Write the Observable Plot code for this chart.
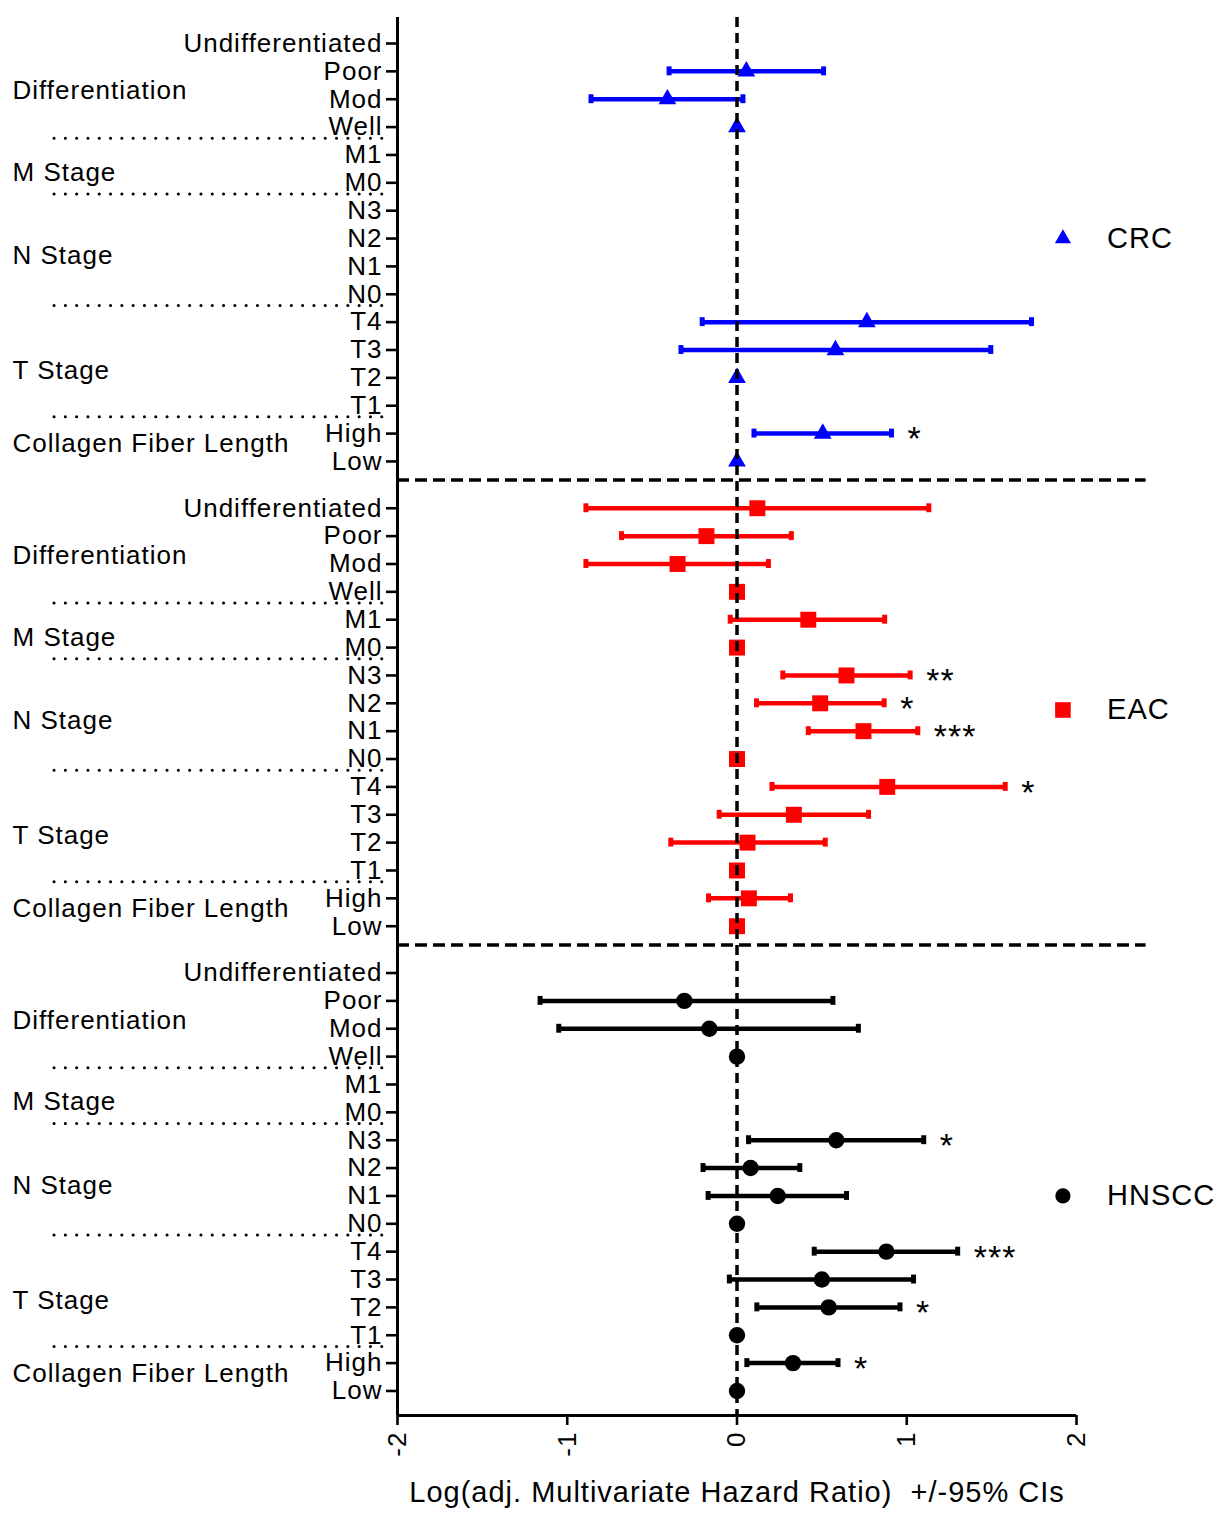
<!DOCTYPE html>
<html>
<head>
<meta charset="utf-8">
<script src="https://cdn.jsdelivr.net/npm/d3@7"></script>
<script src="https://cdn.jsdelivr.net/npm/@observablehq/plot@0.6"></script>
<style>
  body { margin: 0; background: #fff; }
  #chart svg text { letter-spacing: 1px; }
</style>
</head>
<body>
<div id="chart"></div>
<script>
// ---------- data ----------
const rowLabels = ["Undifferentiated", "Poor", "Mod", "Well", "M1", "M0", "N3", "N2", "N1", "N0", "T4", "T3", "T2", "T1", "High", "Low"];
const cohorts = ["CRC", "EAC", "HNSCC"];
const cohortColors = ["#0000ff", "#ff0000", "#000000"];
const cohortSymbols = ["triangle", "square", "circle"];

const crcEst = [null, 0.055, -0.41, 0, null, null, null, null, null, null, 0.765, 0.58, 0, null, 0.505, 0];
const crcLo  = [null, -0.40, -0.86, null, null, null, null, null, null, null, -0.205, -0.33, null, null, 0.10, null];
const crcHi  = [null, 0.51, 0.035, null, null, null, null, null, null, null, 1.735, 1.495, null, null, 0.91, null];
const crcSig = ["", "", "", "", "", "", "", "", "", "", "", "", "", "", "*", ""];

const eacEst = [0.12, -0.18, -0.35, 0, 0.42, 0, 0.645, 0.49, 0.745, 0, 0.885, 0.335, 0.062, 0, 0.07, 0];
const eacLo  = [-0.89, -0.68, -0.89, null, -0.04, null, 0.27, 0.115, 0.42, null, 0.206, -0.105, -0.39, null, -0.168, null];
const eacHi  = [1.13, 0.32, 0.185, null, 0.87, null, 1.02, 0.867, 1.065, null, 1.58, 0.775, 0.52, null, 0.315, null];
const eacSig = ["", "", "", "", "", "", "**", "*", "***", "", "*", "", "", "", "", ""];

const hnEst = [null, -0.31, -0.163, 0, null, null, 0.585, 0.08, 0.24, 0, 0.88, 0.50, 0.54, 0, 0.33, 0];
const hnLo  = [null, -1.16, -1.05, null, null, null, 0.068, -0.20, -0.17, null, 0.455, -0.045, 0.117, null, 0.058, null];
const hnHi  = [null, 0.565, 0.715, null, null, null, 1.10, 0.37, 0.645, null, 1.30, 1.04, 0.96, null, 0.595, null];
const hnSig = ["", "", "", "", "", "", "*", "", "", "", "***", "", "*", "", "*", ""];

const sectionNames = ["Differentiation", "M Stage", "N Stage", "T Stage", "Collagen Fiber Length"];
const sectionLabelRows = [1.7, 4.63, 7.62, 11.75, 14.37];
const sectionBreakRows = [3.4, 5.4, 9.4, 13.4];
const cohortBreakRow = 15.67;
const legendRows = [7.0, 7.24, 8.0];
const xTicks = [-2, -1, 0, 1, 2];
const xLabel = "Log(adj. Multivariate Hazard Ratio)  +/-95% CIs";

// ---------- build tables ----------
const GROUP_STEP = 16.68;
const pos = (g, i) => g * GROUP_STEP + i;
const series = [
  [crcEst, crcLo, crcHi, crcSig],
  [eacEst, eacLo, eacHi, eacSig],
  [hnEst, hnLo, hnHi, hnSig]
];
const rows = [];
series.forEach(([est, lo, hi, sig], g) => {
  rowLabels.forEach((label, i) => {
    rows.push({g, cohort: cohorts[g], color: cohortColors[g], label, pos: pos(g, i),
      est: est[i], lo: lo[i], hi: hi[i], sig: sig[i]});
  });
});
const labelByPos = new Map(rows.map(r => [r.pos, r.label]));
const ciRows = rows.filter(r => r.lo != null);
const caps = ciRows.flatMap(r => [{x: r.lo, pos: r.pos, color: r.color}, {x: r.hi, pos: r.pos, color: r.color}]);
const sigRows = rows.filter(r => r.sig);
const sectionLabels = cohorts.flatMap((c, g) => sectionNames.map((name, k) => ({name, pos: pos(g, sectionLabelRows[k])})));
const sectionBreaks = cohorts.flatMap((c, g) => sectionBreakRows.map(b => pos(g, b)));
const cohortBreaks = [pos(0, cohortBreakRow), pos(1, cohortBreakRow)];
const legend = cohorts.map((c, g) => ({name: c, color: cohortColors[g], symbol: cohortSymbols[g], pos: pos(g, legendRows[g])}));

const W = 1225, H = 1513, ML = 397, MR = 149, MT = 17, MB = 98;
const yDomain = [-0.933, 49.24];

const pointMarks = cohorts.map((c, g) =>
  Plot.dot(rows.filter(r => r.g === g && r.est != null), {
    x: "est", y: "pos", symbol: cohortSymbols[g], fill: cohortColors[g], stroke: "none",
    r: [6.6, 9, 8.2][g]
  })
);
const legendMarks = legend.map((d, g) =>
  Plot.dot([d], {x: () => 1.92, y: "pos", symbol: d.symbol, fill: d.color, stroke: "none", r: [6, 8.8, 7.6][g]})
);

const chart = Plot.plot({
  width: W, height: H,
  marginLeft: ML, marginRight: MR, marginTop: MT, marginBottom: MB,
  x: {domain: [-2, 2]},
  y: {domain: yDomain, reverse: true},
  style: {fontFamily: "'Liberation Sans', Arial, sans-serif", fontSize: "26px", color: "#000", background: "#fff", overflow: "visible"},
  marks: [
    // dotted section separators in the label area
    Plot.ruleY(sectionBreaks, {y: d => d, insetLeft: -(ML - 54), insetRight: (W - ML - MR) + 5,
      stroke: "#000", strokeWidth: 3, strokeDasharray: "0.1,11.2", strokeLinecap: "round"}),
    // CI bars
    Plot.ruleY(ciRows, {y: "pos", x1: "lo", x2: "hi", stroke: "color", strokeWidth: 4.5}),
    Plot.ruleX(caps, {x: "x", y1: d => d.pos - 0.16, y2: d => d.pos + 0.16, stroke: "color", strokeWidth: 5}),
    ...pointMarks,
    // reference line at 0
    Plot.ruleX([0], {stroke: "#000", strokeWidth: 3.5, strokeDasharray: "10,6"}),
    // cohort separators
    Plot.ruleY(cohortBreaks, {y: d => d, x1: -2, x2: 2.41, stroke: "#000", strokeWidth: 3.5, strokeDasharray: "12,6"}),
    // axes lines
    Plot.ruleX([-2], {stroke: "#000", strokeWidth: 3}),
    Plot.ruleY([yDomain[1]], {x1: -2, x2: 2, stroke: "#000", strokeWidth: 3}),
    Plot.axisY(rows.map(r => r.pos), {tickFormat: v => labelByPos.get(v), tickSize: 11, tickPadding: 4,
      fontSize: 26, strokeWidth: 2.6, label: null}),
    Plot.axisX(xTicks, {tickFormat: d => String(d), tickRotate: -90, tickSize: 10, tickPadding: 6,
      fontSize: 26, strokeWidth: 2.6, label: null}),
    // significance stars
    Plot.text(sigRows, {x: "hi", y: "pos", text: "sig", textAnchor: "start", dx: 16, dy: 6, fontSize: 34, fill: "#000"}),
    // section labels
    Plot.text(sectionLabels, {y: "pos", text: "name", frameAnchor: "left", textAnchor: "start", dx: -(ML - 12), fontSize: 26}),
    // legend
    ...legendMarks,
    Plot.text(legend, {x: () => 2.18, y: "pos", text: "name", textAnchor: "start", fontSize: 29}),
    // x label
    Plot.text([xLabel], {frameAnchor: "bottom", dy: 86, fontSize: 29})
  ]
});
document.getElementById("chart").appendChild(chart);
</script>
</body>
</html>
